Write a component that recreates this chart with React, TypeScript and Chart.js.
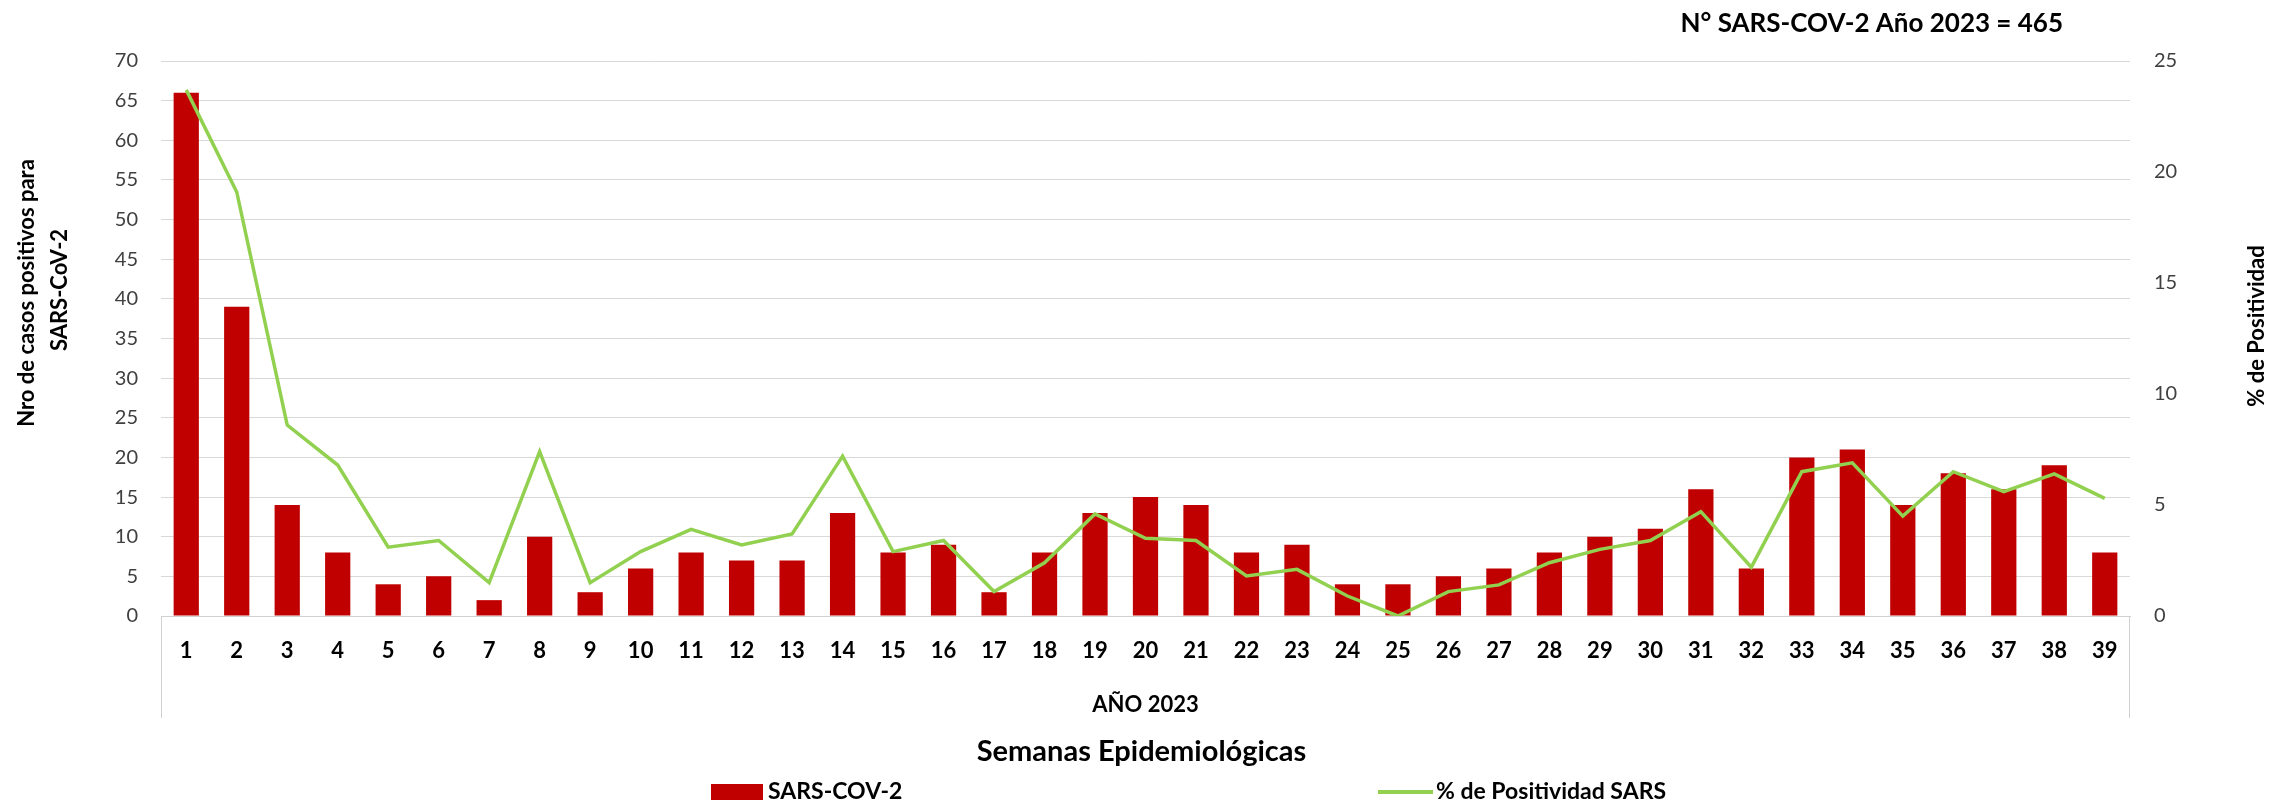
import React, { useEffect, useRef } from 'react';
import { Chart, registerables } from 'chart.js';

Chart.register(...registerables);

const FONT = 'Lato, "Liberation Sans", sans-serif';

const weeks = ['1', '2', '3', '4', '5', '6', '7', '8', '9', '10', '11', '12', '13', '14', '15', '16', '17', '18', '19', '20',
  '21', '22', '23', '24', '25', '26', '27', '28', '29', '30', '31', '32', '33', '34', '35', '36', '37', '38', '39'];

const casos = [66, 39, 14, 8, 4, 5, 2, 10, 3, 6, 8, 7, 7, 13, 8, 9, 3, 8, 13, 15,
  14, 8, 9, 4, 4, 5, 6, 8, 10, 11, 16, 6, 20, 21, 14, 18, 16, 19, 8];

const positividad = [23.7, 19.1, 8.6, 6.8, 3.1, 3.4, 1.5, 7.4, 1.5, 2.9, 3.9, 3.2, 3.7, 7.2, 2.9, 3.4, 1.1, 2.4, 4.6, 3.5,
  3.4, 1.8, 2.1, 0.9, 0.0, 1.1, 1.4, 2.4, 3.0, 3.4, 4.7, 2.2, 6.5, 6.9, 4.5, 6.5, 5.6, 6.4, 5.3];

const TITLE = 'N° SARS-COV-2 Año 2023 = 465';
const GROUP_LABEL = 'AÑO 2023';
const X_TITLE = 'Semanas Epidemiológicas';
const Y_TITLE = ['Nro de casos positivos para', 'SARS-CoV-2'];
const Y1_TITLE = '% de Positividad';
const BAR_LABEL = 'SARS-COV-2';
const LINE_LABEL = '% de Positividad SARS';

const overlay = {
  id: 'overlay',
  afterDraw(chart: any) {
    const { ctx, chartArea: ca } = chart;
    ctx.save();
    // multi-level category frame
    ctx.strokeStyle = '#d0d0d0';
    ctx.lineWidth = 1;
    ctx.beginPath();
    ctx.moveTo(Math.round(ca.left) + 0.5, ca.bottom);
    ctx.lineTo(Math.round(ca.left) + 0.5, ca.bottom + 102);
    ctx.moveTo(Math.round(ca.right) - 0.5, ca.bottom);
    ctx.lineTo(Math.round(ca.right) - 0.5, ca.bottom + 102);
    ctx.stroke();

    ctx.fillStyle = '#000';
    ctx.textBaseline = 'alphabetic';

    // title
    ctx.font = `bold 26px ${FONT}`;
    ctx.textAlign = 'right';
    ctx.fillText(TITLE, 2063, 32);

    // group label
    const cx = (ca.left + ca.right) / 2;
    ctx.font = `bold 22px ${FONT}`;
    ctx.textAlign = 'center';
    ctx.fillText(GROUP_LABEL, cx, 712);

    // x title
    ctx.font = `bold 29px ${FONT}`;
    ctx.fillText(X_TITLE, cx - 4, 761);

    // y title (left)
    ctx.font = `bold 22px ${FONT}`;
    ctx.textBaseline = 'middle';
    ctx.save();
    ctx.translate(27, 293);
    ctx.rotate(-Math.PI / 2);
    ctx.fillText(Y_TITLE[0], 0, 0);
    ctx.restore();
    ctx.save();
    ctx.translate(60, 290);
    ctx.rotate(-Math.PI / 2);
    ctx.fillText(Y_TITLE[1], 0, 0);
    ctx.restore();

    // y1 title (right)
    ctx.save();
    ctx.translate(2257, 326);
    ctx.rotate(-Math.PI / 2);
    ctx.fillText(Y1_TITLE, 0, 0);
    ctx.restore();

    // legend
    const ds = chart.data.datasets;
    const barDs = ds.find((d: any) => d.type === 'bar');
    const lineDs = ds.find((d: any) => d.type === 'line');
    ctx.fillStyle = barDs.backgroundColor;
    ctx.fillRect(711, 784, 52, 16);
    ctx.strokeStyle = lineDs.borderColor;
    ctx.lineWidth = 4;
    ctx.beginPath();
    ctx.moveTo(1378, 792);
    ctx.lineTo(1433, 792);
    ctx.stroke();
    ctx.fillStyle = '#000';
    ctx.font = `bold 23px ${FONT}`;
    ctx.textAlign = 'left';
    ctx.textBaseline = 'alphabetic';
    ctx.fillText(barDs.label, 768, 799);
    ctx.fillText(lineDs.label, 1436, 799);
    ctx.restore();
  },
};

export default function App() {
  const ref = useRef<HTMLCanvasElement>(null);
  useEffect(() => {
    if (!ref.current) return;
    const chart = new Chart(ref.current, {
      type: 'bar',
      data: {
        labels: weeks,
        datasets: [
          {
            type: 'line',
            label: LINE_LABEL,
            data: positividad,
            yAxisID: 'y1',
            borderColor: '#92D050',
            backgroundColor: '#92D050',
            borderWidth: 3.5,
            pointRadius: 0,
            tension: 0,
            order: 0,
          } as any,
          {
            type: 'bar',
            label: BAR_LABEL,
            data: casos,
            yAxisID: 'y',
            backgroundColor: '#C00000',
            barPercentage: 0.5,
            categoryPercentage: 1,
            order: 1,
          } as any,
        ],
      },
      options: {
        animation: false,
        responsive: false,
        layout: { padding: { top: 61, left: 0, right: 0, bottom: 0 } },
        plugins: {
          legend: { display: false },
          tooltip: { enabled: false },
          title: { display: false },
        },
        scales: {
          x: {
            grid: { display: false, drawTicks: false },
            border: { display: true, color: '#d0d0d0', width: 1 },
            ticks: {
              color: '#000',
              font: { family: FONT, size: 22, weight: 'bold' },
              padding: 22,
              maxRotation: 0,
              autoSkip: false,
            },
            afterFit: (s: any) => { s.height = 186; },
          },
          y: {
            position: 'left',
            min: 0,
            max: 70,
            ticks: { stepSize: 5, color: '#404040', font: { family: FONT, size: 20 }, padding: 23 },
            grid: { color: '#d9d9d9', lineWidth: 1, drawTicks: false },
            border: { display: false },
            afterFit: (s: any) => { s.width = 161; },
          },
          y1: {
            position: 'right',
            min: 0,
            max: 25,
            ticks: { stepSize: 5, color: '#404040', font: { family: FONT, size: 20 }, padding: 24 },
            grid: { display: false, drawTicks: false },
            border: { display: false },
            afterFit: (s: any) => { s.width = 142; },
          },
        },
      } as any,
      plugins: [overlay],
    });
    return () => chart.destroy();
  }, []);
  return (
    <div style={{ position: 'absolute', left: 0, top: 0, width: 2272, height: 802, background: '#fff' }}>
      <canvas ref={ref} width={2272} height={802} style={{ display: 'block' }} />
    </div>
  );
}
